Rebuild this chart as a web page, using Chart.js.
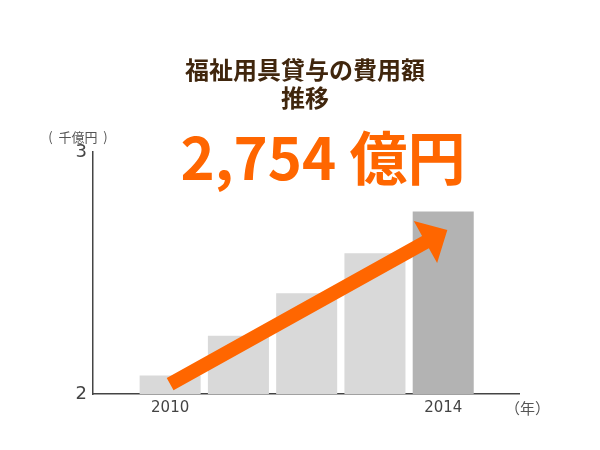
<!DOCTYPE html>
<html lang="ja">
<head>
<meta charset="UTF-8" />
<title>福祉用具貸与の費用額推移</title>
<script src="https://cdn.jsdelivr.net/npm/chart.js@4.4.1/dist/chart.umd.min.js"></script>
<style>
  html, body { margin: 0; padding: 0; background: #fff; }
</style>
</head>
<body>
<canvas id="myChart" width="600" height="450"></canvas>
<script>
// 費用額（千億円）
const years = [2010, 2011, 2012, 2013, 2014];
const costs = [2.076, 2.241, 2.416, 2.582, 2.754];
const barColors = ['#d9d9d9', '#d9d9d9', '#d9d9d9', '#d9d9d9', '#b3b3b3'];
const yearTicks = [2010, 2014];
const titleLines = ['福祉用具貸与の費用額', '推移'];
const headline = '2,754 億円';
const yUnit = '(  千億円  )';
const xUnit = '（年）';

// arrow, in data units
const arrowFrom = { x: 2010, y: 2.041 };
const arrowTo = { x: 2014.06, y: 2.678 };

const JP = '"Noto Sans CJK JP", "Noto Sans", sans-serif';

const decor = {
  id: 'decor',
  afterDatasetsDraw(chart) {
    const ctx = chart.ctx;
    const xs = chart.scales.x, ys = chart.scales.y;
    // arrow
    const x1 = xs.getPixelForValue(arrowFrom.x), y1 = ys.getPixelForValue(arrowFrom.y);
    const x2 = xs.getPixelForValue(arrowTo.x), y2 = ys.getPixelForValue(arrowTo.y);
    const len = Math.hypot(x2 - x1, y2 - y1);
    const ux = (x2 - x1) / len, uy = (y2 - y1) / len;
    const px = -uy, py = ux;
    const sw = 7, hl = 25, hw = 24;
    const bx = x2 - ux * hl, by = y2 - uy * hl;
    ctx.save();
    ctx.fillStyle = '#ff6600';
    ctx.beginPath();
    ctx.moveTo(x1 + px * sw, y1 + py * sw);
    ctx.lineTo(bx + px * sw, by + py * sw);
    ctx.lineTo(bx + px * hw, by + py * hw);
    ctx.lineTo(x2, y2);
    ctx.lineTo(bx - px * hw, by - py * hw);
    ctx.lineTo(bx - px * sw, by - py * sw);
    ctx.lineTo(x1 - px * sw, y1 - py * sw);
    ctx.closePath();
    ctx.fill();
    ctx.restore();
  },
  afterDraw(chart) {
    const ctx = chart.ctx;
    const area = chart.chartArea;
    ctx.save();
    ctx.textAlign = 'center';
    ctx.textBaseline = 'middle';
    // title
    ctx.fillStyle = '#40260d';
    ctx.font = 'bold 24px ' + JP;
    titleLines.forEach((t, i) => ctx.fillText(t, 305, 70 + i * 28));
    // headline
    ctx.fillStyle = '#ff6600';
    ctx.font = 'bold 58px ' + JP;
    ctx.fillText(headline, 323, 158);
    // units
    ctx.fillStyle = '#555';
    ctx.font = '13px ' + JP;
    ctx.fillText(yUnit, 78, 137);
    ctx.textAlign = 'left';
    ctx.font = '15px ' + JP;
    ctx.fillText(xUnit, area.right - 14, 408);
    ctx.restore();
  }
};

new Chart(document.getElementById('myChart'), {
  type: 'bar',
  data: {
    datasets: [{
      data: years.map((y, i) => ({ x: y, y: costs[i] })),
      backgroundColor: barColors,
      borderWidth: 0,
      barPercentage: 0.894,
      categoryPercentage: 1
    }]
  },
  options: {
    responsive: false,
    animation: false,
    devicePixelRatio: 1,
    layout: { padding: { top: 152, right: 81, bottom: 26, left: 0 } },
    plugins: { legend: { display: false }, tooltip: { enabled: false } },
    scales: {
      x: {
        type: 'linear',
        offset: false,
        min: 2008.87,
        max: 2015.11,
        grid: { display: false, drawTicks: false },
        border: { display: true, color: '#444', width: 1.5 },
        afterBuildTicks: s => { s.ticks = yearTicks.map(v => ({ value: v })); },
        afterFit: s => { s.height = 30; },
        ticks: {
          autoSkip: false,
          maxRotation: 0,
          padding: 5,
          color: '#444',
          font: { family: '"DejaVu Sans"', size: 15 },
          callback: v => String(v)
        }
      },
      y: {
        min: 2,
        max: 3,
        grid: { display: false, drawTicks: false },
        border: { display: true, color: '#444', width: 1.5 },
        afterFit: s => { s.width = 93; },
        ticks: {
          stepSize: 1,
          padding: 6,
          color: '#444',
          font: { family: '"DejaVu Sans"', size: 18 }
        }
      }
    }
  },
  plugins: [decor]
});
</script>
</body>
</html>
